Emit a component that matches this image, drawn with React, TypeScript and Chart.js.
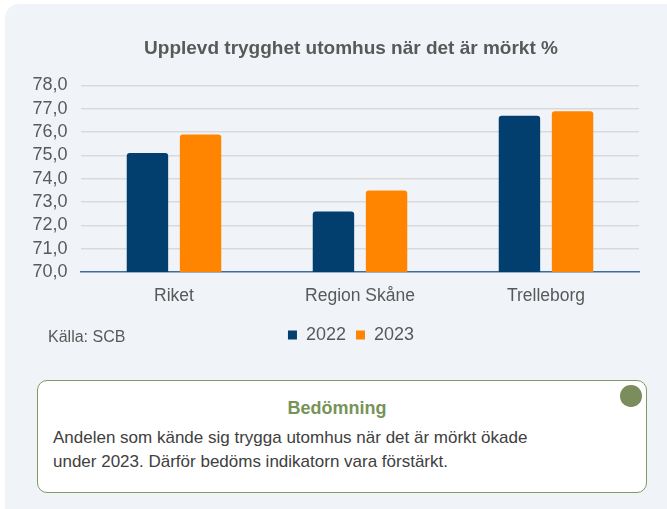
import React, { useEffect, useRef } from "react";
import { Chart, registerables } from "chart.js";

Chart.register(...registerables);

const categories = ["Riket", "Region Skåne", "Trelleborg"];
const values2022 = [75.1, 72.6, 76.7];
const values2023 = [75.9, 73.5, 76.9];
const seriesLabels = ["2022", "2023"];
const yMin = 70;
const yMax = 78;

const FONT = "'Liberation Sans', Arial, Helvetica, sans-serif";
const GRAY = "#595959";

function ChartCanvas() {
  const ref = useRef<HTMLCanvasElement | null>(null);
  useEffect(() => {
    if (!ref.current) return;
    const chart = new Chart(ref.current, {
      type: "bar",
      data: {
        labels: categories,
        datasets: [
          {
            label: seriesLabels[0],
            data: values2022,
            backgroundColor: "#023f6e",
            borderRadius: 3,
            categoryPercentage: 0.571,
            barPercentage: 0.78,
          },
          {
            label: seriesLabels[1],
            data: values2023,
            backgroundColor: "#ff8500",
            borderRadius: 3,
            categoryPercentage: 0.571,
            barPercentage: 0.78,
          },
        ],
      },
      options: {
        responsive: false,
        animation: false,
        devicePixelRatio: 1,
        layout: { padding: { left: 63, right: 28, top: 27, bottom: 16 } },
        plugins: {
          tooltip: { enabled: false },
          title: {
            display: true,
            text: "Upplevd trygghet utomhus när det är mörkt %",
            color: GRAY,
            font: { family: FONT, size: 19, weight: "bold" },
            padding: { top: 10, bottom: 25.7 },
          },
          legend: {
            display: true,
            position: "bottom",
            labels: {
              color: GRAY,
              font: { family: FONT, size: 18 },
              boxWidth: 9,
              boxHeight: 9,
              padding: 10,
            },
          },
        },
        scales: {
          x: {
            grid: { display: false, drawTicks: false },
            border: { display: true, color: "#3a6e9c", width: 1.5 },
            ticks: { color: GRAY, font: { family: FONT, size: 17.5 }, padding: 13.5 },
            afterFit: (s: any) => {
              s.height = 44;
            },
          },
          y: {
            min: yMin,
            max: yMax,
            border: { display: false },
            grid: {
              drawTicks: false,
              lineWidth: 1.5,
              color: (ctx: any) => (ctx.tick && ctx.tick.value === yMin ? "rgba(0,0,0,0)" : "#d9d9d9"),
            },
            ticks: {
              stepSize: 1,
              autoSkip: false,
              mirror: true,
              padding: -48.5,
              color: GRAY,
              font: { family: FONT, size: 18 },
              callback: (v: any) => Number(v).toFixed(1).replace(".", ","),
            },
            afterFit: (s: any) => {
              s.width = 18;
            },
          },
        },
      },
    });
    return () => chart.destroy();
  }, []);
  return (
    <canvas
      ref={ref}
      width={667}
      height={370}
      style={{ position: "absolute", left: 0, top: 0, width: 667, height: 370 }}
    />
  );
}

export default function App() {
  return (
    <div
      style={{
        position: "fixed",
        left: 0,
        top: 0,
        width: 667,
        height: 509,
        overflow: "hidden",
        background: "#ffffff",
        fontFamily: FONT,
      }}
    >
      <div
        style={{
          position: "absolute",
          left: 5,
          top: 4,
          width: 720,
          height: 560,
          background: "#f0f4f8",
          borderRadius: 14,
        }}
      />
      <ChartCanvas />
      <div
        style={{
          position: "absolute",
          left: 48,
          top: 329,
          fontSize: 16,
          lineHeight: "16px",
          color: GRAY,
          whiteSpace: "nowrap",
        }}
      >
        Källa: SCB
      </div>
      <div
        style={{
          position: "absolute",
          left: 37,
          top: 380,
          width: 610,
          height: 113,
          boxSizing: "border-box",
          border: "1.5px solid #809a63",
          borderRadius: 10,
          background: "#ffffff",
        }}
      />
      <div
        style={{
          position: "absolute",
          left: 620,
          top: 385,
          width: 21.5,
          height: 21.5,
          borderRadius: "50%",
          background: "#7b8d5c",
        }}
      />
      <div
        style={{
          position: "absolute",
          left: 37,
          width: 600,
          top: 399,
          fontSize: 18,
          lineHeight: "18px",
          fontWeight: "bold",
          color: "#789358",
          textAlign: "center",
        }}
      >
        Bedömning
      </div>
      <div
        style={{
          position: "absolute",
          left: 53,
          top: 426,
          width: 580,
          fontSize: 17,
          lineHeight: "23.5px",
          color: "#404040",
        }}
      >
        Andelen som kände sig trygga utomhus när det är mörkt ökade
        <br />
        under 2023. Därför bedöms indikatorn vara förstärkt.
      </div>
    </div>
  );
}
